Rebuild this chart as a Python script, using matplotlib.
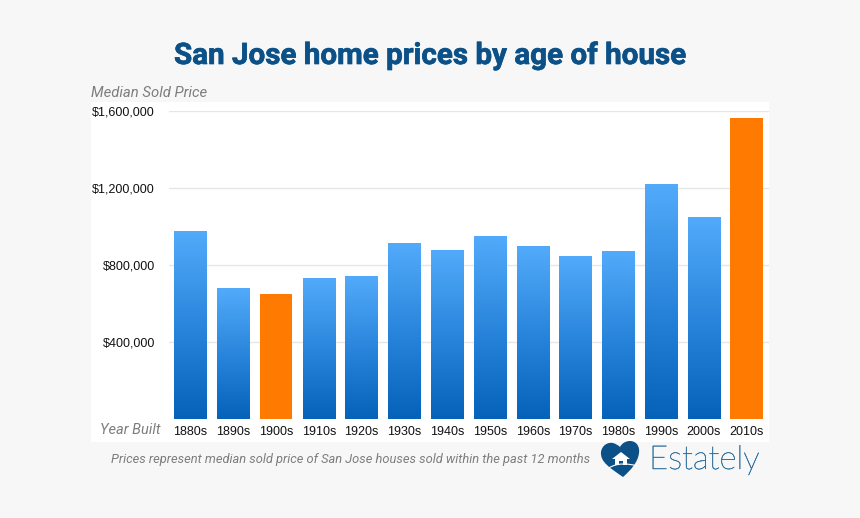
import numpy as np
import matplotlib
matplotlib.use('Agg')
import matplotlib.pyplot as plt
import matplotlib.patheffects as pe
from matplotlib.colors import LinearSegmentedColormap
from matplotlib.patches import PathPatch, Rectangle
from matplotlib.path import Path

decades = ['1880s', '1890s', '1900s', '1910s', '1920s', '1930s', '1940s',
           '1950s', '1960s', '1970s', '1980s', '1990s', '2000s', '2010s']
prices = [978000, 678000, 650000, 730000, 742000, 912000, 879000,
          947000, 898000, 843000, 874000, 1218000, 1051000, 1566000]
highlight = ['1900s', '2010s']
yticks = [400000, 800000, 1200000, 1600000]
ytick_labels = ['$400,000', '$800,000', '$1,200,000', '$1,600,000']

W, H = 860, 518
BG = '#f7f7f7'
BLUE = '#0b5188'
GREY = '#7d7d7d'

plt.rcParams['font.family'] = ['Roboto', 'DejaVu Sans']

fig = plt.figure(figsize=(W / 100, H / 100), dpi=100, facecolor=BG)

# full figure axes in pixel coordinates, for panel, logo and captions
bg = fig.add_axes([0, 0, 1, 1])
bg.set_xlim(0, W)
bg.set_ylim(H, 0)
bg.axis('off')
bg.add_patch(Rectangle((91, 102), 678, 340, fc='white', ec='none'))

title = bg.text(430.5, 56, 'San Jose home prices by age of house', ha='center', va='center',
                fontsize=21.3, fontweight='bold', color=BLUE)
title.set_path_effects([pe.withStroke(linewidth=0.5, foreground=BLUE)])
bg.text(91, 93, 'Median Sold Price', ha='left', va='center', fontsize=10.7,
        style='italic', color=GREY)
bg.text(100, 430, 'Year Built', ha='left', va='center', fontsize=10.5,
        style='italic', color=GREY)
bg.text(111, 459.5, 'Prices represent median sold price of San Jose houses sold within the past 12 months',
        ha='left', va='center', fontsize=9.3, style='italic', color=GREY)

# heart logo
heart = Path([(623, 477), (610, 468), (600, 462), (601, 452), (602, 445), (608, 442),
              (613, 443), (616, 444), (618, 445), (620, 447), (622, 443), (626, 441),
              (630, 441), (636, 441), (640, 446), (639, 453), (638, 462), (631, 470), (623, 477)],
             [Path.MOVETO] + [Path.CURVE4] * 18)
bg.add_patch(PathPatch(heart, fc=BLUE, ec='none'))
house = Path([(621, 452), (630, 459), (627, 459), (627, 465), (623, 465), (623, 461),
              (619, 461), (619, 465), (615, 465), (615, 459), (612, 459), (621, 452)])
bg.add_patch(PathPatch(house, fc='white', ec='none'))
swoosh = Path([(609, 468), (616, 463), (628, 463), (637, 466)],
              [Path.MOVETO, Path.CURVE4, Path.CURVE4, Path.CURVE4])
bg.add_patch(PathPatch(swoosh, fc='none', ec='white', lw=0.8))
logo = bg.text(649, 460, 'Estately', ha='left', va='center', fontsize=23.8, color='#2f72a2',
               family=['Lato', 'DejaVu Sans'], fontweight='light')
logo.set_path_effects([pe.withStroke(linewidth=0.35, foreground='#2f72a2')])

# chart axes
ax = fig.add_axes([169 / W, 1 - 418.8 / H, 600 / W, 307.5 / H])
ax.patch.set_alpha(0)
x = np.arange(len(decades))

ax.set_yticks(yticks)
ax.set_yticklabels(ytick_labels)
ax.set_xticks(x)
ax.set_xticklabels(decades)
ax.tick_params(length=0, labelsize=9, labelcolor='#111111')
ax.tick_params(axis='x', pad=5)
ax.tick_params(axis='y', pad=10)
for lab in ax.get_xticklabels() + ax.get_yticklabels():
    lab.set_family(['Liberation Sans', 'DejaVu Sans'])
ax.grid(axis='y', color='#e6e6e6', lw=1)
ax.set_axisbelow(True)
for s in ax.spines.values():
    s.set_visible(False)

grad = LinearSegmentedColormap.from_list('bars', ['#0562b8', '#2a86dc', '#52aafa'])
ramp = np.linspace(0, 1, 256).reshape(-1, 1)
bars = ax.bar(x, prices, width=0.76, color='#ff7a00', zorder=2)
for d, b in zip(decades, bars):
    if d in highlight:
        continue
    ax.imshow(ramp, cmap=grad, origin='lower', aspect='auto', zorder=3,
              extent=[b.get_x(), b.get_x() + b.get_width(), 0, b.get_height()])
ax.set_xlim(-0.5, 13.52)
ax.set_ylim(0, 1600000)

fig.savefig('out.png', dpi=100, facecolor=BG)
